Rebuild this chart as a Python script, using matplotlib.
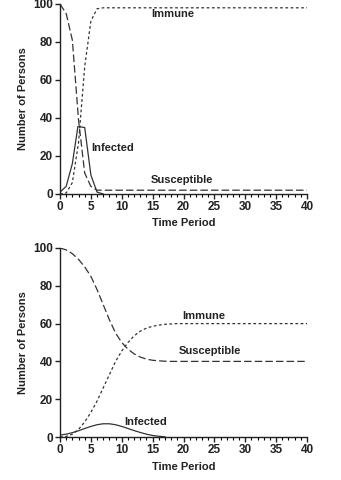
import matplotlib
matplotlib.use("Agg")
import matplotlib.pyplot as plt
from matplotlib.ticker import MultipleLocator

plt.rcParams['font.family'] = ['Liberation Sans', 'DejaVu Sans']
plt.rcParams['font.weight'] = 'bold'

# top panel: fast epidemic (values read per time period)
t_top = [0, 1, 2, 3, 4, 5, 6, 7, 40]
sus_top = [100, 95, 81, 39, 11, 4, 2, 2, 2]
imm_top = [0, 0.5, 6, 27, 67, 91, 97.5, 98, 98]
t_inf_top = [0, 1, 2, 2.9, 4.0, 5, 6, 7]
inf_top = [1, 4, 16, 35.5, 35, 10, 1, 0]

# bottom panel: slow epidemic
t_bot = [0, 1, 2, 3, 4, 5, 6, 7, 8, 9, 10, 11, 12, 13, 14, 15, 16, 17, 18, 19, 40]
sus_bot = [100, 99, 97, 94, 90, 85, 78, 70, 62, 55, 50, 46.5, 44, 42.3, 41.2,
           40.6, 40.3, 40.1, 40, 40, 40]
imm_bot = [0, 0.3, 1.5, 4, 8, 13, 19, 26, 33, 40, 45.5, 50, 53.5, 56, 57.6,
           58.6, 59.2, 59.6, 59.8, 60, 60]
t_inf_bot = [0, 1, 2, 3, 4, 5, 6, 7, 8, 9, 10, 11, 12, 13, 14, 15, 16, 17]
inf_bot = [1, 1.5, 2.3, 3.3, 4.5, 5.6, 6.5, 7, 7, 6.5, 5.6, 4.5, 3.4, 2.4, 1.5,
           0.8, 0.4, 0.1]

col = '#333333'
txt = '#222222'
fig = plt.figure(figsize=(3.41, 4.80), dpi=100)
ax1 = fig.add_axes([60/341, 1 - 194/480, 247/341, 190/480])
ax2 = fig.add_axes([60/341, 1 - 437/480, 247/341, 189/480])


def style(ax):
    ax.set_xlim(0, 40)
    ax.set_ylim(0, 100)
    for s in ['top', 'right']:
        ax.spines[s].set_visible(False)
    for s in ['left', 'bottom']:
        ax.spines[s].set_color('#222222')
        ax.spines[s].set_linewidth(1.0)
    ax.xaxis.set_major_locator(MultipleLocator(5))
    ax.xaxis.set_minor_locator(MultipleLocator(1))
    ax.yaxis.set_major_locator(MultipleLocator(20))
    ax.tick_params(axis='both', which='major', direction='out', length=3.5,
                   width=1, labelsize=8.5, pad=1.5, colors=txt)
    ax.tick_params(axis='x', which='minor', direction='out', length=2.5, width=0.8)
    ax.set_xlabel('Time Period', fontsize=8, fontweight='bold', labelpad=4, color=txt)
    ax.set_ylabel('Number of Persons', fontsize=8, fontweight='bold', labelpad=4, color=txt)


for ax in (ax1, ax2):
    style(ax)

ax1.plot(t_top, sus_top, color=col, lw=0.9, dashes=(6, 2.5))
ax1.plot(t_top, imm_top, color=col, lw=0.9, dashes=(2.2, 2))
ax1.plot(t_inf_top, inf_top, color=col, lw=0.9)
ax1.text(18.3, 94.5, 'Immune', fontsize=8, ha='center', va='center', color=txt)
ax1.text(8.6, 24, 'Infected', fontsize=8, ha='center', va='center', color=txt)
ax1.text(19.7, 7.4, 'Susceptible', fontsize=8, ha='center', va='center', color=txt)

ax2.plot(t_bot, sus_bot, color=col, lw=0.9, dashes=(6, 2.5))
ax2.plot(t_bot, imm_bot, color=col, lw=0.9, dashes=(2.2, 2))
ax2.plot(t_inf_bot, inf_bot, color=col, lw=0.9)
ax2.text(23.2, 64, 'Immune', fontsize=8, ha='center', va='center', color=txt)
ax2.text(24.2, 45.5, 'Susceptible', fontsize=8, ha='center', va='center', color=txt)
ax2.text(13.9, 8, 'Infected', fontsize=8, ha='center', va='center', color=txt)

fig.savefig('out.png', dpi=100)
